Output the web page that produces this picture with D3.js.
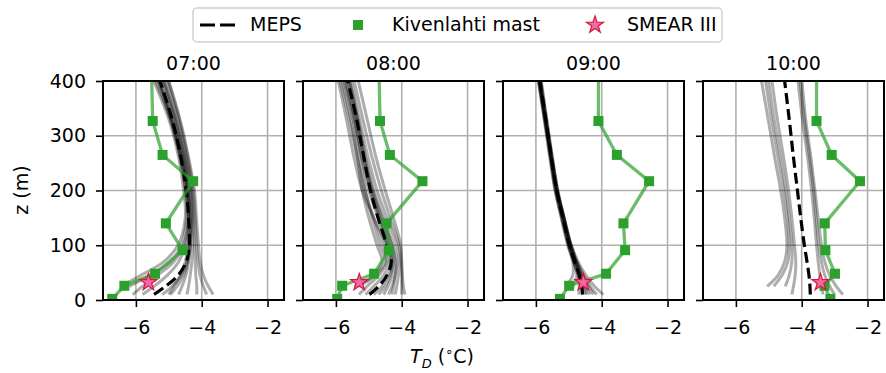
<!DOCTYPE html>
<html>
<head>
<meta charset="utf-8">
<script src="https://cdn.jsdelivr.net/npm/d3@7"></script>
<style>
  body { margin: 0; background: #fff; }
  svg text { font-family: "DejaVu Sans", sans-serif; font-size: 19px; fill: #000; }
</style>
</head>
<body>
<svg id="chart" width="886" height="373"></svg>
<script>
// heights
var zMeps  = [10, 25, 45, 70, 100, 150, 200, 260, 330, 420];
var zMast  = [2, 26, 48, 91, 140, 217, 265, 327, 450];
var zSmear = 32;

var times = ["07:00", "08:00", "09:00", "10:00"];
var xTicks = [-6, -4, -2];
var yTicks = [0, 100, 200, 300, 400];

// MEPS control / mean profile (dashed)
var mepsMain = [
    [-5.45, -5.10, -4.72, -4.47, -4.38, -4.40, -4.47, -4.63, -4.90, -5.38],
    [-4.98, -4.70, -4.45, -4.32, -4.45, -4.72, -4.95, -5.15, -5.37, -5.72],
    [-4.58, -4.61, -4.68, -4.82, -4.98, -5.18, -5.37, -5.53, -5.70, -5.93],
    [-3.74, -3.75, -3.78, -3.84, -3.92, -4.03, -4.13, -4.25, -4.38, -4.56]
];

// ensemble members (grey)
var members07 = [
    [null, -6.45, -5.85, -5.15, -4.72, -4.50, -4.55, -4.70, -5.00, -5.60],
    [null, -6.20, -5.60, -4.95, -4.62, -4.46, -4.50, -4.66, -4.95, -5.55],
    [-6.10, -5.80, -5.35, -4.85, -4.55, -4.40, -4.42, -4.58, -4.88, -5.40],
    [-5.80, -5.45, -5.05, -4.70, -4.50, -4.40, -4.45, -4.62, -4.92, -5.42],
    [-5.20, -4.90, -4.62, -4.45, -4.38, -4.35, -4.40, -4.55, -4.82, -5.30],
    [-4.95, -4.75, -4.55, -4.42, -4.35, -4.35, -4.42, -4.60, -4.90, -5.42],
    [-4.70, -4.60, -4.48, -4.40, -4.35, -4.30, -4.35, -4.52, -4.80, -5.28],
    [-4.45, -4.40, -4.35, -4.30, -4.28, -4.28, -4.33, -4.50, -4.78, -5.25],
    [-4.15, -4.15, -4.18, -4.20, -4.22, -4.25, -4.30, -4.46, -4.72, -5.18],
    [-3.85, -3.95, -4.05, -4.12, -4.16, -4.20, -4.26, -4.42, -4.68, -5.12],
    [-3.65, -3.80, -3.95, -4.05, -4.10, -4.16, -4.22, -4.40, -4.66, -5.10],
    [-5.00, -4.85, -4.65, -4.50, -4.42, -4.40, -4.48, -4.65, -4.95, -5.45]
];
var members08 = [
    [null, -5.45, -4.85, -4.60, -4.75, -5.00, -5.20, -5.35, -5.55, -5.90],
    [null, -5.30, -4.80, -4.50, -4.65, -4.90, -5.10, -5.28, -5.48, -5.85],
    [-5.30, -5.05, -4.70, -4.45, -4.55, -4.85, -5.12, -5.35, -5.60, -5.95],
    [-5.10, -4.85, -4.55, -4.38, -4.45, -4.72, -5.00, -5.22, -5.45, -5.80],
    [-4.70, -4.50, -4.35, -4.25, -4.35, -4.65, -4.92, -5.15, -5.38, -5.70],
    [-4.40, -4.30, -4.20, -4.15, -4.25, -4.55, -4.85, -5.10, -5.33, -5.65],
    [-4.20, -4.15, -4.10, -4.08, -4.15, -4.45, -4.75, -5.02, -5.28, -5.60],
    [-4.00, -4.00, -4.00, -4.02, -4.08, -4.35, -4.62, -4.90, -5.18, -5.52],
    [-3.90, -3.95, -3.98, -4.00, -4.03, -4.25, -4.50, -4.78, -5.05, -5.40],
    [-4.55, -4.42, -4.30, -4.30, -4.45, -4.85, -5.20, -5.45, -5.68, -6.00],
    [-4.85, -4.60, -4.42, -4.30, -4.40, -4.68, -4.95, -5.20, -5.42, -5.78],
    [-4.30, -4.25, -4.20, -4.20, -4.30, -4.60, -4.88, -5.12, -5.35, -5.68]
];
var members09 = [
    [null, -5.10, -4.88, -4.88, -5.02, -5.22, -5.42, -5.58, -5.75, -5.98],
    [null, -4.88, -4.76, -4.85, -5.00, -5.20, -5.40, -5.55, -5.72, -5.95],
    [-4.50, -4.55, -4.65, -4.80, -4.96, -5.16, -5.35, -5.50, -5.68, -5.90],
    [-4.35, -4.48, -4.62, -4.78, -4.95, -5.15, -5.33, -5.50, -5.67, -5.88],
    [-4.15, -4.35, -4.55, -4.75, -4.93, -5.14, -5.34, -5.52, -5.70, -5.92],
    [-3.95, -4.22, -4.48, -4.72, -4.92, -5.14, -5.36, -5.54, -5.73, -5.96],
    [-4.60, -4.60, -4.70, -4.84, -5.00, -5.20, -5.38, -5.54, -5.71, -5.94],
    [-4.70, -4.68, -4.72, -4.86, -5.03, -5.23, -5.41, -5.56, -5.74, -5.97],
    [-4.45, -4.52, -4.64, -4.79, -4.95, -5.15, -5.35, -5.51, -5.69, -5.91],
    [-4.25, -4.40, -4.58, -4.77, -4.94, -5.16, -5.37, -5.55, -5.72, -5.95]
];
var members10 = [
    [null, -5.05, -4.72, -4.52, -4.45, -4.52, -4.64, -4.82, -5.02, -5.28],
    [null, -4.85, -4.60, -4.42, -4.38, -4.44, -4.55, -4.72, -4.92, -5.15],
    [null, -4.50, -4.38, -4.30, -4.30, -4.38, -4.48, -4.64, -4.84, -5.05],
    [-4.30, -4.25, -4.20, -4.18, -4.22, -4.30, -4.40, -4.55, -4.74, -4.95],
    [-3.35, -3.40, -3.45, -3.50, -3.55, -3.62, -3.70, -3.82, -3.98, -4.15],
    [-3.00, -3.15, -3.30, -3.40, -3.48, -3.56, -3.64, -3.76, -3.92, -4.08],
    [-2.75, -2.95, -3.15, -3.30, -3.40, -3.50, -3.60, -3.72, -3.88, -4.02]
];
var members = [members07, members08, members09, members10];

// Kivenlahti mast
var mast = [
    [-6.72, -6.35, -5.42, -4.58, -5.09, -4.26, -5.19, -5.49, -5.54],
    [-5.96, -5.81, -4.84, -4.39, -4.46, -3.37, -4.36, -4.66, -4.70],
    [-5.27, -4.99, -3.87, -3.29, -3.34, -2.56, -3.54, -4.10, -4.10],
    [-3.13, -3.31, -2.99, -3.28, -3.30, -2.23, -3.09, -3.55, -3.55]
];

// SMEAR III
var smear = [-5.62, -5.29, -4.56, -3.43];

var svg = d3.select("#chart");
var panelW = 181, panelH = 219, panelTop = 81;
var lefts = [103, 303, 503, 703];

var x = d3.scaleLinear().domain([-7, -1.5]).range([0, panelW]);
var y = d3.scaleLinear().domain([0, 400]).range([panelH, 0]);

var line = d3.line()
    .defined(function(d) { return d[0] != null; })
    .x(function(d) { return x(d[0]); })
    .y(function(d) { return y(d[1]); })
    .curve(d3.curveCatmullRom);

var mastLine = d3.line()
    .x(function(d) { return x(d[0]); })
    .y(function(d) { return y(d[1]); });

function pair(vals, zs) {
    return vals.map(function(v, i) { return [v, zs[i]]; });
}

times.forEach(function(t, p) {
    var g = svg.append("g").attr("transform", "translate(" + lefts[p] + "," + panelTop + ")");

    g.append("clipPath").attr("id", "clip" + p)
        .append("rect").attr("width", panelW).attr("height", panelH);

    // grid
    g.selectAll(".gx").data(xTicks).enter().append("line")
        .attr("x1", function(d) { return x(d); }).attr("x2", function(d) { return x(d); })
        .attr("y1", 0).attr("y2", panelH)
        .attr("stroke", "#b0b0b0").attr("stroke-width", 1.6);
    g.selectAll(".gy").data(yTicks.slice(1, 4)).enter().append("line")
        .attr("y1", function(d) { return y(d); }).attr("y2", function(d) { return y(d); })
        .attr("x1", 0).attr("x2", panelW)
        .attr("stroke", "#b0b0b0").attr("stroke-width", 1.6);

    var plot = g.append("g").attr("clip-path", "url(#clip" + p + ")");

    plot.selectAll(".member").data(members[p]).enter().append("path")
        .attr("d", function(d) { return line(pair(d, zMeps)); })
        .attr("fill", "none")
        .attr("stroke", "#000")
        .attr("stroke-opacity", 0.32)
        .attr("stroke-width", 3);

    plot.append("path")
        .attr("d", line(pair(mepsMain[p], zMeps)))
        .attr("fill", "none")
        .attr("stroke", "#000")
        .attr("stroke-width", 3.2)
        .attr("stroke-dasharray", "11,5");

    var obs = pair(mast[p], zMast);
    plot.append("path")
        .attr("d", mastLine(obs))
        .attr("fill", "none")
        .attr("stroke", "#2ca02c")
        .attr("stroke-opacity", 0.7)
        .attr("stroke-width", 3.3);
    plot.selectAll(".sq").data(obs).enter().append("rect")
        .attr("x", function(d) { return x(d[0]) - 5; })
        .attr("y", function(d) { return y(d[1]) - 5; })
        .attr("width", 10).attr("height", 10)
        .attr("fill", "#2ca02c");

    plot.append("path")
        .attr("d", d3.symbol().type(d3.symbolStar).size(90)())
        .attr("transform", "translate(" + x(smear[p]) + "," + y(zSmear) + ")")
        .attr("fill", "#f06aa8")
        .attr("stroke", "#dc143c")
        .attr("stroke-width", 1.2);

    // frame
    g.append("rect").attr("width", panelW).attr("height", panelH)
        .attr("fill", "none").attr("stroke", "#000").attr("stroke-width", 2);

    // x axis
    var xa = g.append("g").attr("transform", "translate(0," + panelH + ")")
        .call(d3.axisBottom(x).tickValues(xTicks).tickSize(7).tickPadding(14)
            .tickFormat(d3.format("d")));
    xa.attr("font-size", null).attr("font-family", null);
    xa.select(".domain").remove();
    xa.selectAll(".tick line").attr("stroke-width", 1.6);

    // y axis
    var ya = g.append("g")
        .call(d3.axisLeft(y).tickValues(yTicks).tickSize(7).tickPadding(10)
            .tickFormat(p === 0 ? d3.format("d") : ""));
    ya.attr("font-size", null).attr("font-family", null);
    ya.select(".domain").remove();
    ya.selectAll(".tick line").attr("stroke-width", 1.6);

    g.append("text")
        .attr("x", panelW / 2).attr("y", -11)
        .attr("text-anchor", "middle")
        .text(t);
});

// axis labels
svg.append("text")
    .attr("transform", "translate(28,190) rotate(-90)")
    .attr("text-anchor", "middle")
    .text("z (m)");

var xl = svg.append("text").attr("x", 442).attr("y", 363).attr("text-anchor", "middle");
xl.append("tspan").attr("font-style", "italic").text("T");
xl.append("tspan").attr("font-style", "italic").attr("font-size", "13px").attr("dy", 5).text("D");
xl.append("tspan").attr("dy", -5).text(" (");
xl.append("tspan").attr("font-size", "13px").attr("dy", -7).text("∘");
xl.append("tspan").attr("dy", 7).text("C)");

// legend
var lg = svg.append("g");
lg.append("rect")
    .attr("x", 193).attr("y", 8).attr("width", 529).attr("height", 34).attr("rx", 4)
    .attr("fill", "#fff").attr("stroke", "#d0d0d0").attr("stroke-width", 1.5);
lg.append("line")
    .attr("x1", 200).attr("x2", 237).attr("y1", 25).attr("y2", 25)
    .attr("stroke", "#000").attr("stroke-width", 3.2).attr("stroke-dasharray", "15,5");
lg.append("text").attr("x", 250).attr("y", 31).text("MEPS");
lg.append("rect").attr("x", 353).attr("y", 20).attr("width", 10).attr("height", 10).attr("fill", "#2ca02c");
lg.append("text").attr("x", 392).attr("y", 31).text("Kivenlahti mast");
lg.append("path")
    .attr("d", d3.symbol().type(d3.symbolStar).size(90)())
    .attr("transform", "translate(595,25)")
    .attr("fill", "#f06aa8").attr("stroke", "#dc143c").attr("stroke-width", 1.2);
lg.append("text").attr("x", 627).attr("y", 31).text("SMEAR III");
</script>
</body>
</html>
